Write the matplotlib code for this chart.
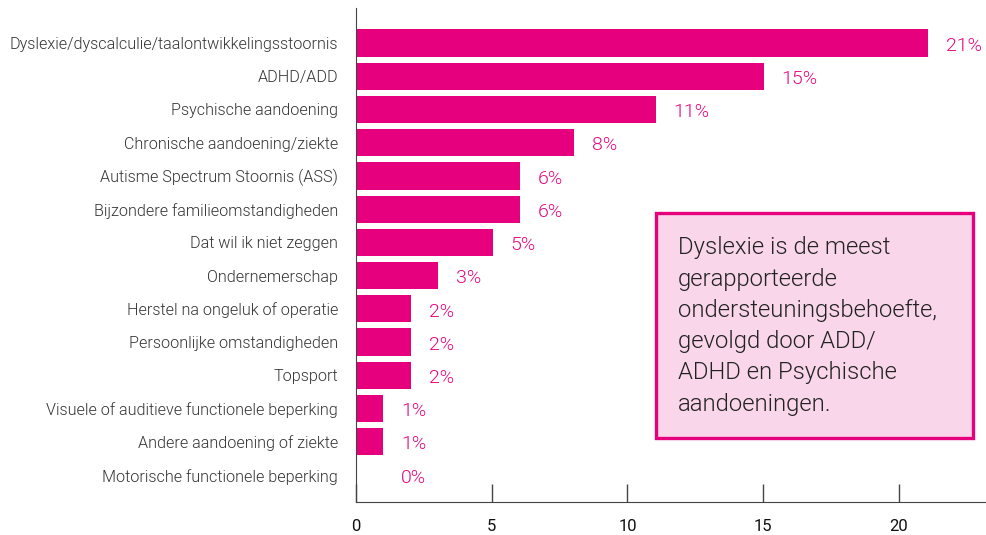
import matplotlib
matplotlib.use("Agg")
import matplotlib.pyplot as plt
from matplotlib.patches import Rectangle

plt.rcParams['font.family'] = ['Roboto', 'DejaVu Sans']

categories = [
    "Dyslexie/dyscalculie/taalontwikkelingsstoornis",
    "ADHD/ADD",
    "Psychische aandoening",
    "Chronische aandoening/ziekte",
    "Autisme Spectrum Stoornis (ASS)",
    "Bijzondere familieomstandigheden",
    "Dat wil ik niet zeggen",
    "Ondernemerschap",
    "Herstel na ongeluk of operatie",
    "Persoonlijke omstandigheden",
    "Topsport",
    "Visuele of auditieve functionele beperking",
    "Andere aandoening of ziekte",
    "Motorische functionele beperking",
]
values = [21.07, 15.03, 11.05, 8.03, 6.04, 6.04, 5.05, 3.02, 2.03, 2.03, 2.03, 0.99, 0.99, 0.0]
pct_labels = ["21%", "15%", "11%", "8%", "6%", "6%", "5%", "3%", "2%", "2%", "2%", "1%", "1%", "0%"]
xticks = [0, 5, 10, 15, 20]
note = ("Dyslexie is de meest\ngerapporteerde\nondersteuningsbehoefte,\n"
        "gevolgd door ADD/\nADHD en Psychische\naandoeningen.")

pink = "#E6007E"
label_pink = "#E6077F"

fig = plt.figure(figsize=(9.87, 5.35), dpi=100)
ax = fig.add_axes([0.3607, 0.0617, 0.6373, 0.9233])

ypos = list(range(len(categories)))
ax.barh(ypos, values, height=0.82, color=pink)

for y, v, lab in zip(ypos, values, pct_labels):
    ax.text(max(v, 1) + 0.65, y + 0.08, lab, color=label_pink, fontsize=14,
            fontweight=300, va='center', ha='left')

ax.set_ylim(13.81, -1.05)
ax.set_xlim(0, 23.17)
ax.set_yticks(ypos)
ax.set_yticklabels(categories, fontsize=11.6, color="#333333", fontweight=300)
ax.set_xticks(xticks)
ax.set_xticklabels([str(t) for t in xticks], fontsize=12, color="#111111")
ax.tick_params(axis='y', length=0, pad=13)
ax.tick_params(axis='x', direction='in', length=13, width=1, color="#444444", pad=12)

for side in ['top', 'right']:
    ax.spines[side].set_visible(False)
ax.spines['left'].set_color("#444444")
ax.spines['bottom'].set_color("#444444")

# callout box
ax.add_patch(Rectangle((0.477, 0.1296), 0.504, 0.4554, transform=ax.transAxes,
                       facecolor="#F9D6EA", edgecolor=pink, linewidth=2.4,
                       zorder=3, clip_on=False))
ax.text(0.512, 0.538, note, transform=ax.transAxes, fontsize=17.2,
        fontweight=300, color="#222222", va='top', ha='left',
        linespacing=1.46, zorder=4)

fig.savefig("out.png", dpi=100)
